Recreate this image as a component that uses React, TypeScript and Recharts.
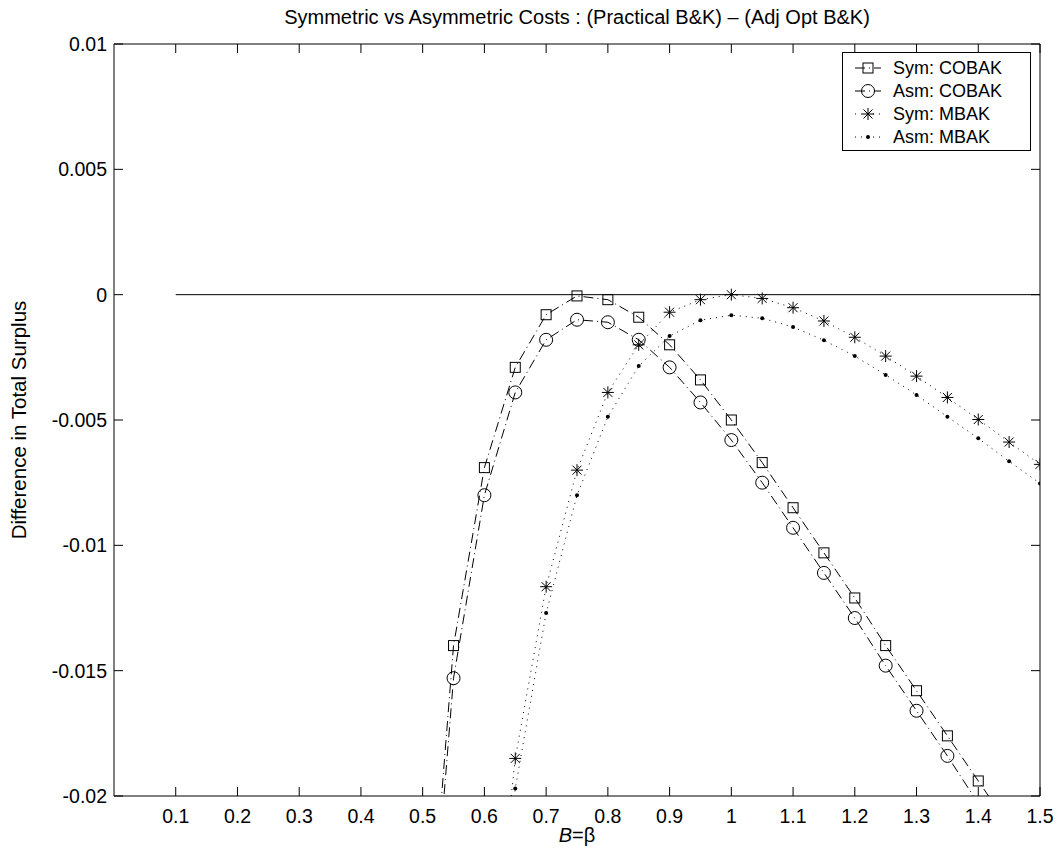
import { LineChart, Line, XAxis, YAxis, ReferenceLine, Legend } from 'recharts';

// x positions, the first and last points fall outside the visible y range
const xCobak = [0.5, 0.55, 0.6, 0.65, 0.7, 0.75, 0.8, 0.85, 0.9, 0.95, 1.0, 1.05, 1.1, 1.15, 1.2, 1.25, 1.3, 1.35, 1.4, 1.45];
const symCobak = [-0.0295, -0.014, -0.0069, -0.0029, -0.0008, -0.00005, -0.0002, -0.0009, -0.002, -0.0034, -0.005, -0.0067, -0.0085, -0.0103, -0.0121, -0.014, -0.0158, -0.0176, -0.0194, -0.0212];
const asmCobak = [-0.0305, -0.0153, -0.008, -0.0039, -0.0018, -0.001, -0.0011, -0.0018, -0.0029, -0.0043, -0.0058, -0.0075, -0.0093, -0.0111, -0.0129, -0.0148, -0.0166, -0.0184, -0.0203, -0.0221];

const xMbak = [0.6, 0.65, 0.7, 0.75, 0.8, 0.85, 0.9, 0.95, 1.0, 1.05, 1.1, 1.15, 1.2, 1.25, 1.3, 1.35, 1.4, 1.45, 1.5];
const symMbak = [-0.03, -0.0185, -0.01165, -0.007, -0.0039, -0.002, -0.0007, -0.0002, 0.0, -0.00015, -0.00052, -0.00105, -0.0017, -0.00245, -0.00325, -0.0041, -0.00498, -0.00588, -0.00677];
const asmMbak = [-0.031, -0.0197, -0.0127, -0.008, -0.00487, -0.00285, -0.00165, -0.00102, -0.00082, -0.00094, -0.00129, -0.00182, -0.00245, -0.0032, -0.004, -0.00487, -0.00573, -0.00665, -0.00753];

const xTicks = [0.1, 0.2, 0.3, 0.4, 0.5, 0.6, 0.7, 0.8, 0.9, 1, 1.1, 1.2, 1.3, 1.4, 1.5];
const yTicks = [0.01, 0.005, 0, -0.005, -0.01, -0.015, -0.02];

const seriesNames = ['Sym: COBAK', 'Asm: COBAK', 'Sym: MBAK', 'Asm: MBAK'];

const W = 1045;
const H = 840;
const M = { top: 36, right: 13, bottom: 22, left: 0 };
const Y_W = 106;
const X_H = 30;
const PL = M.left + Y_W;
const PR = W - M.right;
const PT = M.top;
const PB = H - M.bottom - X_H;
const FONT = '"Liberation Sans", Arial, sans-serif';
const TICK_FS = 19.5;
const TICK = 9;
const YMIN = -0.02;

const toPoints = (xs: number[], ys: number[]) => xs.map((x, i) => ({ x, y: ys[i] }));

const dashDot = '10 4 1 4';
const dotted = '1 5';

const Square = (cx: number, cy: number, k?: any) => (
  <rect key={k} x={cx - 5} y={cy - 5} width={10} height={10} fill="none" stroke="#000" strokeWidth={1} />
);
const Circ = (cx: number, cy: number, k?: any) => (
  <circle key={k} cx={cx} cy={cy} r={6.5} fill="none" stroke="#000" strokeWidth={1} />
);
const Star = (cx: number, cy: number, k?: any) => (
  <g key={k} stroke="#000" strokeWidth={1}>
    <line x1={cx - 6} x2={cx + 6} y1={cy} y2={cy} />
    <line x1={cx} x2={cx} y1={cy - 6} y2={cy + 6} />
    <line x1={cx - 4.5} x2={cx + 4.5} y1={cy - 4.5} y2={cy + 4.5} />
    <line x1={cx - 4.5} x2={cx + 4.5} y1={cy + 4.5} y2={cy - 4.5} />
  </g>
);
const Dot = (cx: number, cy: number, k?: any) => (
  <circle key={k} cx={cx} cy={cy} r={2} fill="#000" stroke="none" />
);

const markers = [Square, Circ, Star, Dot];
const dashes = [dashDot, dashDot, dotted, dotted];

const dotFn = (m: (cx: number, cy: number, k?: any) => any) => (p: any) => {
  if (p.payload.y < YMIN || p.cx == null || p.cy == null) return <g key={p.index} />;
  return m(p.cx, p.cy, p.index);
};

const XTick = (p: any) => {
  const v = p.payload.value;
  return (
    <g>
      <line x1={p.x} x2={p.x} y1={PB} y2={PB - TICK} stroke="#000" />
      <line x1={p.x} x2={p.x} y1={PT} y2={PT + TICK} stroke="#000" />
      <text x={p.x} y={PB + 27} textAnchor="middle" fontFamily={FONT} fontSize={TICK_FS} fill="#000">
        {String(v)}
      </text>
    </g>
  );
};

const YTick = (p: any) => {
  const v = p.payload.value;
  return (
    <g>
      <line x1={PL} x2={PL + TICK} y1={p.y} y2={p.y} stroke="#000" />
      <line x1={PR} x2={PR - TICK} y1={p.y} y2={p.y} stroke="#000" />
      <text x={PL - 7} y={p.y + 7} textAnchor="end" fontFamily={FONT} fontSize={TICK_FS} fill="#000">
        {String(v)}
      </text>
    </g>
  );
};

const LegendBox = () => (
  <div
    style={{
      border: '1px solid #000',
      background: '#fff',
      width: 189,
      height: 99,
      padding: '4px 0 0 0',
      boxSizing: 'border-box',
      fontFamily: FONT,
      fontSize: 18,
      color: '#000',
    }}
  >
    {seriesNames.map((name, i) => (
      <div key={name} style={{ display: 'flex', alignItems: 'center', height: 22.8 }}>
        <svg width={50} height={20} style={{ display: 'block' }}>
          <line x1={12} x2={38} y1={10} y2={10} stroke="#000" strokeDasharray={dashes[i]} />
          {markers[i](25, 10)}
        </svg>
        <span style={{ lineHeight: '20px' }}>{name}</span>
      </div>
    ))}
  </div>
);

export default function App() {
  const series = [
    toPoints(xCobak, symCobak),
    toPoints(xCobak, asmCobak),
    toPoints(xMbak, symMbak),
    toPoints(xMbak, asmMbak),
  ];
  return (
    <div style={{ position: 'relative', width: W, height: H }}>
      <div
        style={{
          position: 'absolute',
          left: PL,
          width: PR - PL,
          top: -2,
          height: 22,
          lineHeight: '22px',
          textAlign: 'center',
          fontFamily: FONT,
          fontSize: 20,
          color: '#000',
          whiteSpace: 'nowrap',
          zIndex: 2,
        }}
      >
        Symmetric vs Asymmetric Costs : (Practical B&amp;K) – (Adj Opt B&amp;K)
      </div>
      <LineChart width={W} height={H} margin={M}>
        <XAxis
          type="number"
          dataKey="x"
          domain={[0, 1.5]}
          ticks={xTicks}
          allowDataOverflow
          height={X_H}
          tickLine={false}
          axisLine={{ stroke: '#000' }}
          tick={<XTick />}
          interval={0}
        />
        <YAxis
          type="number"
          dataKey="y"
          domain={[-0.02, 0.01]}
          ticks={yTicks}
          allowDataOverflow
          width={Y_W}
          tickLine={false}
          axisLine={{ stroke: '#000' }}
          tick={<YTick />}
          interval={0}
        />
        <ReferenceLine y={0.01} stroke="#000" />
        <ReferenceLine x={1.5} stroke="#000" />
        <ReferenceLine
          segment={[{ x: 0.1, y: 0 }, { x: 1.5, y: 0 }]}
          stroke="#000"
          strokeWidth={1}
        />
        {series.map((d, i) => (
          <Line
            key={seriesNames[i]}
            name={seriesNames[i]}
            data={d}
            dataKey="y"
            type="linear"
            stroke="#000"
            strokeWidth={1}
            strokeDasharray={dashes[i]}
            dot={dotFn(markers[i])}
            activeDot={false}
            isAnimationActive={false}
          />
        ))}
        <Legend
          layout="vertical"
          align="center"
          verticalAlign="middle"
          content={<LegendBox />}
          wrapperStyle={{ top: 44, left: 834, width: 189, height: 99 }}
        />
        <text x={(PL + PR) / 2} y={PB + 46} textAnchor="middle" fontFamily={FONT} fontSize={20} fill="#000">
          <tspan fontStyle="italic">B</tspan>=β
        </text>
        <text
          x={18}
          y={(PT + PB) / 2}
          textAnchor="middle"
          fontFamily={FONT}
          fontSize={20.5}
          fill="#000"
          transform={`rotate(-90, 18, ${(PT + PB) / 2})`}
        >
          Difference in Total Surplus
        </text>
      </LineChart>
    </div>
  );
}
